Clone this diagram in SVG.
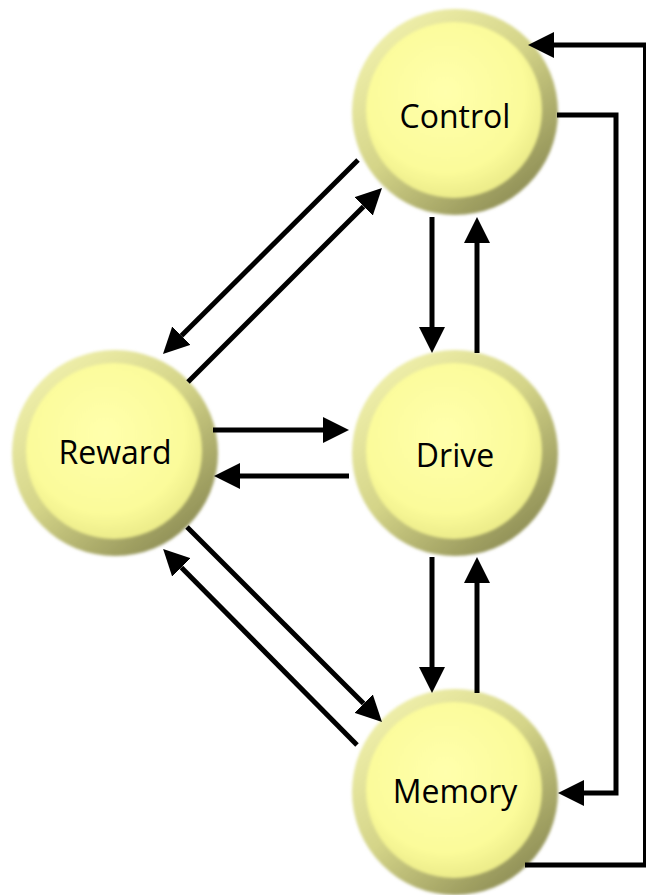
<svg xmlns="http://www.w3.org/2000/svg" width="646" height="895" viewBox="0 0 646 895">
<defs>
  <linearGradient id="ring" x1="0.15" y1="0.1" x2="0.85" y2="0.95">
    <stop offset="0" stop-color="#efefaa"/>
    <stop offset="0.45" stop-color="#d4d488"/>
    <stop offset="1" stop-color="#8a8a52"/>
  </linearGradient>
  <radialGradient id="face" cx="0.45" cy="0.4" r="0.6">
    <stop offset="0" stop-color="#ffffac"/>
    <stop offset="0.75" stop-color="#fbfb9a"/>
    <stop offset="1" stop-color="#ecec8a"/>
  </radialGradient>
  <filter id="soft" x="-10%" y="-10%" width="120%" height="120%">
    <feGaussianBlur stdDeviation="1.5"/>
  </filter>
  <marker id="ah" markerUnits="userSpaceOnUse" markerWidth="26" markerHeight="26" viewBox="0 0 26 26" refX="0" refY="13" orient="auto">
    <path d="M0,0 L26,13 L0,26 z" fill="#000"/>
  </marker>
</defs>
<style>
  .outer { fill: url(#ring); filter: url(#soft); }
  .inner { fill: url(#face); filter: url(#soft); }
  .lbl { font-family: "Open Sans", "Liberation Sans", sans-serif; font-size: 32px; fill: #000; text-anchor: middle; }
  .c { fill: none; stroke: #000; stroke-width: 5; stroke-linejoin: miter; }
</style>
<g id="control">
  <circle class="outer" cx="455" cy="112" r="103"/>
  <circle class="inner" cx="454" cy="110" r="88"/>
  <text class="lbl" x="455" y="128">Control</text>
</g>
<g id="reward">
  <circle class="outer" cx="115" cy="453" r="103"/>
  <circle class="inner" cx="114" cy="451" r="88"/>
  <text class="lbl" x="115" y="464">Reward</text>
</g>
<g id="drive">
  <circle class="outer" cx="455" cy="453" r="103"/>
  <circle class="inner" cx="454" cy="451" r="88"/>
  <text class="lbl" x="455" y="467">Drive</text>
</g>
<g id="memory">
  <circle class="outer" cx="455" cy="792" r="103"/>
  <circle class="inner" cx="454" cy="790" r="88"/>
  <text class="lbl" x="455" y="803">Memory</text>
</g>
<g id="connectors">
  <path class="c" d="M358,160 L181.4,335.7" marker-end="url(#ah)"/>
  <path class="c" d="M188,382 L363.6,206.4" marker-end="url(#ah)"/>
  <path class="c" d="M213,430 L323,430" marker-end="url(#ah)"/>
  <path class="c" d="M349,476 L240,476" marker-end="url(#ah)"/>
  <path class="c" d="M432,217 L432,327" marker-end="url(#ah)"/>
  <path class="c" d="M477,353 L477,243" marker-end="url(#ah)"/>
  <path class="c" d="M432,557 L432,667" marker-end="url(#ah)"/>
  <path class="c" d="M477,693 L477,583" marker-end="url(#ah)"/>
  <path class="c" d="M187,527 L363.6,703.6" marker-end="url(#ah)"/>
  <path class="c" d="M357,745 L181.4,567.4" marker-end="url(#ah)"/>
  <path class="c" d="M525,865 L645.5,865 L645.5,45 L554,45" marker-end="url(#ah)"/>
  <path class="c" d="M557,115 L616,115 L616,793 L584,793" marker-end="url(#ah)"/>
</g>
</svg>
